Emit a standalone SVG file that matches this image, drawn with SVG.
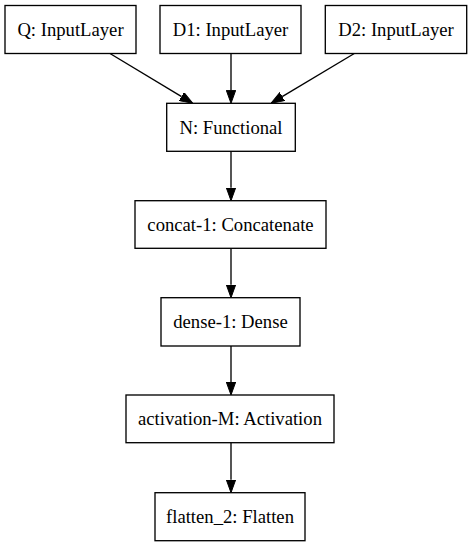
<svg xmlns="http://www.w3.org/2000/svg" width="472" height="547" viewBox="0 0 472 547">
<defs>
<style>
.box{fill:#fff;stroke:#000;stroke-width:1.33}
.lbl{font-size:18.67px;text-anchor:middle;fill:#000}
.edge{stroke:#000;stroke-width:1.33;fill:none}
</style>
<marker id="arr" viewBox="0 0 13 10" refX="0" refY="5" markerWidth="13" markerHeight="10" markerUnits="userSpaceOnUse" orient="auto">
<path d="M0,0.3 L13,5 L0,9.7 z" fill="#000" stroke="#000" stroke-width="1"/>
</marker>
</defs>
<rect width="472" height="547" fill="#fff"/>
<g id="edges">
<line class="edge" x1="110" y1="53.5" x2="181.6" y2="96.6" marker-end="url(#arr)"/>
<line class="edge" x1="231" y1="53.5" x2="231" y2="90.3" marker-end="url(#arr)"/>
<line class="edge" x1="354.3" y1="53.5" x2="282.2" y2="96.6" marker-end="url(#arr)"/>
<line class="edge" x1="231" y1="151" x2="231" y2="187.7" marker-end="url(#arr)"/>
<line class="edge" x1="231" y1="248.3" x2="231" y2="284.7" marker-end="url(#arr)"/>
<line class="edge" x1="231" y1="346" x2="231" y2="382" marker-end="url(#arr)"/>
<line class="edge" x1="231" y1="442.7" x2="231" y2="479.7" marker-end="url(#arr)"/>
</g>
<g font-family="'Liberation Serif', 'DejaVu Serif', serif">
<g id="node-Q">
<rect class="box" x="5" y="5.5" width="131" height="48"/>
<text class="lbl" x="70.5" y="36">Q: InputLayer</text>
</g>
<g id="node-D1">
<rect class="box" x="160" y="5.5" width="141" height="48"/>
<text class="lbl" x="230.5" y="36">D1: InputLayer</text>
</g>
<g id="node-D2">
<rect class="box" x="325.3" y="5.5" width="141.4" height="48"/>
<text class="lbl" x="396" y="36">D2: InputLayer</text>
</g>
<g id="node-N">
<rect class="box" x="166.7" y="103.3" width="128.6" height="48"/>
<text class="lbl" x="231" y="133.8">N: Functional</text>
</g>
<g id="node-concat">
<rect class="box" x="135" y="200.7" width="191" height="47.6"/>
<text class="lbl" x="230.5" y="231">concat-1: Concatenate</text>
</g>
<g id="node-dense">
<rect class="box" x="161" y="297.7" width="139" height="48.3"/>
<text class="lbl" x="230.5" y="328">dense-1: Dense</text>
</g>
<g id="node-activation">
<rect class="box" x="126" y="395" width="208" height="47.7"/>
<text class="lbl" x="230" y="425">activation-M: Activation</text>
</g>
<g id="node-flatten">
<rect class="box" x="155" y="492.7" width="150" height="48"/>
<text class="lbl" x="230" y="523">flatten_2: Flatten</text>
</g>
</g>
</svg>
